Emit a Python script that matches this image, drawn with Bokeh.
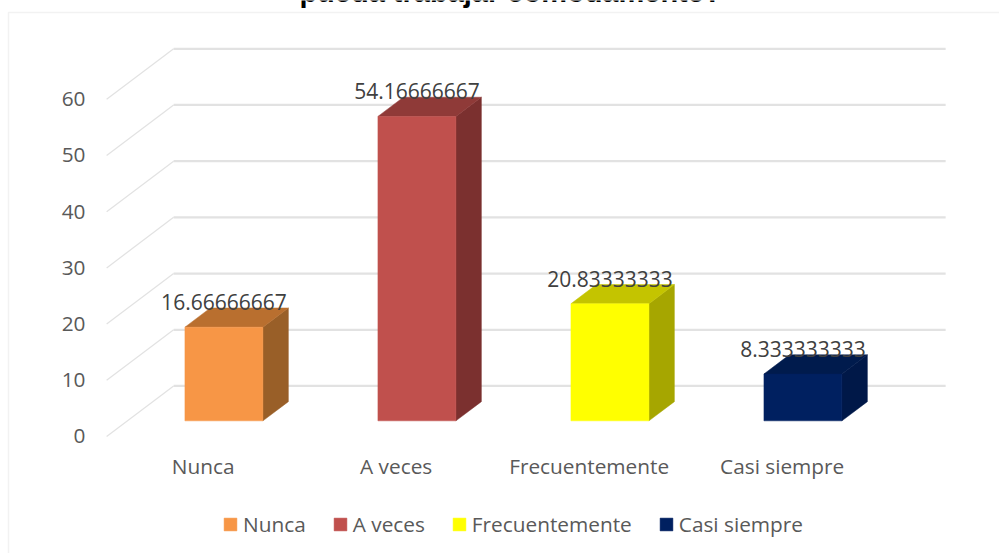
from bokeh.plotting import figure
from bokeh.embed import file_html
from bokeh.resources import INLINE
from bokeh.models import Legend, LegendItem, Label, BoxAnnotation, FixedTicker, Range1d
from bokeh.core.properties import value

categories = ["Nunca", "A veces", "Frecuentemente", "Casi siempre"]
values = [16.66666667, 54.16666667, 20.83333333, 8.333333333]
value_labels = ["16.66666667", "54.16666667", "20.83333333", "8.333333333"]
y_ticks = [0, 10, 20, 30, 40, 50, 60]
front_colors = ["#F79646", "#C0504D", "#FFFF00", "#002060"]
top_colors = ["#B96F2F", "#8F3A38", "#C4C400", "#001B4D"]
side_colors = ["#995F28", "#7B302F", "#A6A600", "#001848"]
title_text = "pueda trabajar cómodamente?"

# oblique projection of the 3D box
DX, DY = 0.347, 8.99
BAR_W = 0.404
D0, D1 = 0.31, 0.69

def proj(x, v, d):
    return x + d * DX, v + d * DY

FONT = "Open Sans"
# the plot frame fills the whole canvas so that title, legend and border are inside it
p = figure(width=999, height=553, output_backend="svg", toolbar_location=None,
           x_range=Range1d(-1.05, 4.126), y_range=Range1d(-20.82, 77.58),
           min_border_left=0, min_border_right=0, min_border_top=0, min_border_bottom=0)
p.outline_line_color = None
p.background_fill_color = "white"
p.grid.visible = False

p.xaxis.ticker = FixedTicker(ticks=list(range(len(categories))))
p.xaxis.major_label_overrides = {i: c for i, c in enumerate(categories)}
p.yaxis.ticker = FixedTicker(ticks=y_ticks)
for ax in (p.xaxis[0], p.yaxis[0]):
    ax.axis_line_color = None
    ax.major_tick_line_color = None
    ax.minor_tick_line_color = None
    ax.major_label_text_font = FONT
    ax.major_label_text_font_size = "20.8px"
    ax.major_label_text_color = "#595959"
p.xaxis.major_label_standoff = -108
p.yaxis.major_label_standoff = -91

# chart border
p.add_layout(BoxAnnotation(left=8, right=1200, top=12, bottom=1200,
                           left_units="canvas", right_units="canvas",
                           top_units="canvas", bottom_units="canvas",
                           fill_color=None, line_color="#D4D4D4", line_width=1.5))

# walls
for t in y_ticks:
    x0, y0 = proj(-0.5, t, 0)
    x1, y1 = proj(-0.5, t, 1)
    x2, y2 = proj(3.5, t, 1)
    p.line([x0, x1], [y0, y1], line_color="#E2E2E2", line_width=1.25)
    p.line([x1, x2], [y1, y2], line_color="#E2E2E2", line_width=2.25)

items = []
for i, (c, v) in enumerate(zip(categories, values)):
    l, r = i - BAR_W / 2, i + BAR_W / 2
    corners = lambda pts: ([proj(a, b, d)[0] for a, b, d in pts], [proj(a, b, d)[1] for a, b, d in pts])
    sx, sy = corners([(r, 0, D0), (r, 0, D1), (r, v, D1), (r, v, D0)])
    p.patch(sx, sy, fill_color=side_colors[i], line_color=side_colors[i], line_width=0.5)
    tx, ty = corners([(l, v, D0), (r, v, D0), (r, v, D1), (l, v, D1)])
    p.patch(tx, ty, fill_color=top_colors[i], line_color=top_colors[i], line_width=0.5)
    fx, fy = corners([(l, 0, D0), (r, 0, D0), (r, v, D0), (l, v, D0)])
    front = p.quad(left=fx[0], right=fx[1], bottom=fy[0], top=fy[2],
                   fill_color=front_colors[i], line_color=front_colors[i], line_width=0.5)
    items.append(LegendItem(label=c, renderers=[front]))

for i, (v, s) in enumerate(zip(values, value_labels)):
    x, y = proj(i, v, D1)
    cx = proj(i, v, D0)[0]
    p.text(x=[cx], y=[y], text=[s], text_font=value(FONT), text_font_size="21px",
           text_color="#404040", text_align="center", text_baseline="bottom", y_offset=2)

legend = Legend(items=items, orientation="horizontal", location=(222, 15),
                spacing=26, glyph_width=16, glyph_height=16, label_standoff=5,
                padding=0, margin=0, border_line_color=None, background_fill_color=None,
                label_text_font=FONT, label_text_font_size="20.8px", label_text_color="#595959")
p.add_layout(legend, "center")

p.add_layout(Label(x=510, y=-9, x_units="canvas", y_units="canvas", text=title_text,
                   text_font="Liberation Sans", text_font_style="bold", text_font_size="29px",
                   text_color="#000000", text_align="center", text_baseline="alphabetic"))

open("out.html", "w").write(file_html(p, INLINE))
